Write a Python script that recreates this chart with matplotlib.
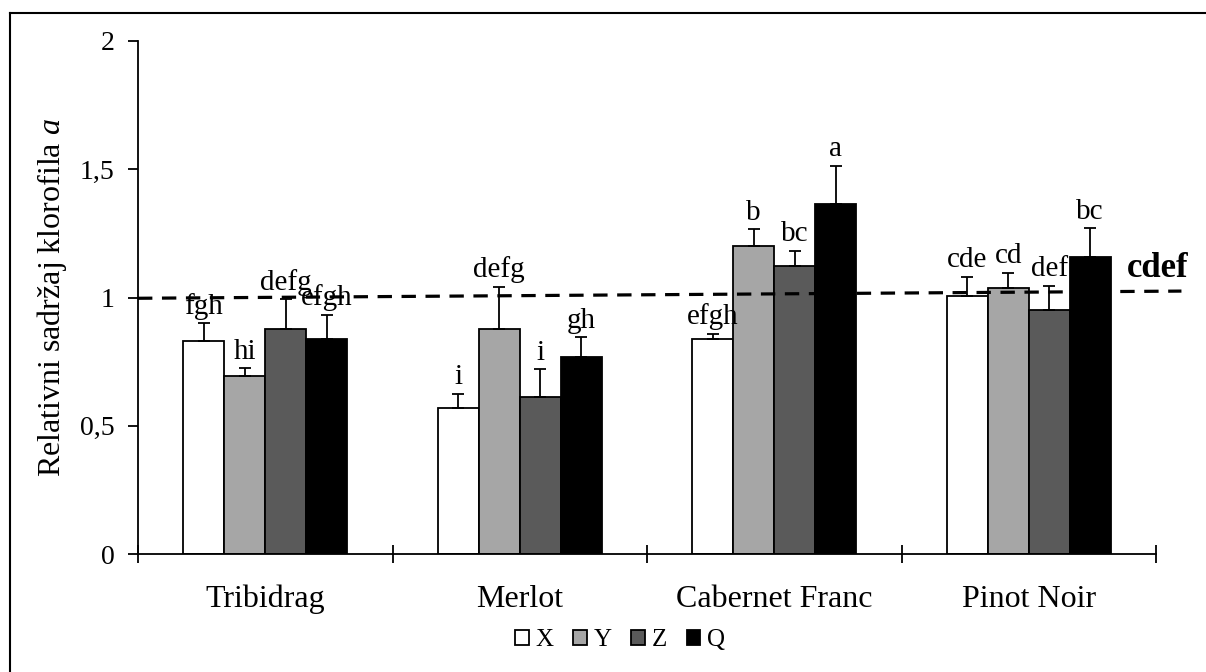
import numpy as np
import matplotlib
matplotlib.use("Agg")
import matplotlib.pyplot as plt
from matplotlib.patches import Patch
from matplotlib.lines import Line2D

plt.rcParams['font.family'] = ['Liberation Serif', 'DejaVu Serif']
plt.rcParams['mathtext.fontset'] = 'custom'
plt.rcParams['mathtext.rm'] = 'Liberation Serif'
plt.rcParams['mathtext.it'] = 'Liberation Serif:italic'

# podaci
sorte = ['Tribidrag', 'Merlot', 'Cabernet Franc', 'Pinot Noir']
serije = ['X', 'Y', 'Z', 'Q']
boje = ['#ffffff', '#a6a6a6', '#5a5a5a', '#000000']

vrijednosti = {
    'X': [0.832, 0.568, 0.837, 1.006],
    'Y': [0.694, 0.877, 1.200, 1.038],
    'Z': [0.877, 0.611, 1.123, 0.951],
    'Q': [0.838, 0.769, 1.363, 1.157],
}
greske = {
    'X': [0.067, 0.056, 0.021, 0.075],
    'Y': [0.030, 0.165, 0.066, 0.059],
    'Z': [0.116, 0.109, 0.058, 0.094],
    'Q': [0.094, 0.076, 0.150, 0.113],
}
slova = {
    'X': ['fgh', 'i', 'efgh', 'cde'],
    'Y': ['hi', 'defg', 'b', 'cd'],
    'Z': ['defg', 'i', 'bc', 'def'],
    'Q': ['efgh', 'gh', 'a', 'bc'],
}
# kontrola (isprekidana linija)
kontrola_x = [0.0, 4.1]
kontrola_y = [0.997, 1.025]
kontrola_slova = 'cdef'

y_ticks = [0, 0.5, 1, 1.5, 2]
y_tick_labels = ['0', '0,5', '1', '1,5', '2']

W, H = 1206, 672
fig = plt.figure(figsize=(W / 100, H / 100), dpi=100)
ax = fig.add_axes([138 / W, 1 - 554 / H, (1156 - 138) / W, (554 - 41) / H])

x = np.arange(len(sorte)) + 0.5
w = 0.161
for i, s in enumerate(serije):
    pos = x + (i - 1.5) * w
    ax.bar(pos, vrijednosti[s], w, color=boje[i], edgecolor='black',
           linewidth=1.3, zorder=2)
    ax.errorbar(pos, vrijednosti[s], yerr=[np.zeros(4), greske[s]], fmt='none',
                ecolor='black', elinewidth=1.3, capsize=4.5, capthick=1.3, zorder=2.5)
    for j in range(4):
        ax.annotate(slova[s][j], (pos[j], vrijednosti[s][j] + greske[s][j]),
                    xytext=(0, 7), textcoords='offset points', ha='center',
                    va='baseline', fontsize=21, zorder=4)

ax.plot(kontrola_x, kontrola_y, color='black', linewidth=2.3, dashes=(4.5, 3),
        clip_on=False, zorder=3)
ax.text(3.886, 1.08, kontrola_slova, fontsize=25, fontweight='bold',
        ha='left', va='baseline')

ax.set_xlim(0, 4)
ax.set_ylim(0, 2)
ax.set_yticks(y_ticks)
ax.set_yticklabels(y_tick_labels, fontsize=20)
ax.set_xticks(np.arange(5))
ax.set_xticklabels([])
ax.set_xticks(x, minor=True)
ax.set_xticklabels(sorte, minor=True, fontsize=23)
ax.tick_params(axis='x', which='major', direction='inout', length=13, width=1.3)
ax.tick_params(axis='x', which='minor', length=0, pad=22)
ax.tick_params(axis='y', direction='out', length=7, width=1.3, pad=10)
for sp in ['top', 'right']:
    ax.spines[sp].set_visible(False)
for sp in ['left', 'bottom']:
    ax.spines[sp].set_linewidth(1.3)

ax.set_ylabel(r'Relativni sadržaj klorofila $\mathit{a}$', fontsize=23)
ax.yaxis.set_label_coords(-0.068, 0.5)

handles = [Patch(facecolor=boje[i], edgecolor='black', linewidth=1.3, label=s)
           for i, s in enumerate(serije)]
fig.legend(handles=handles, loc='center', bbox_to_anchor=(620 / W, 1 - 640 / H),
           ncol=4, frameon=False, fontsize=18, handlelength=0.55, handleheight=0.55,
           handletextpad=0.25, columnspacing=0.8)

# okvir
fig.add_artist(Line2D([10 / W, 1], [1 - 13 / H, 1 - 13 / H], color='black', linewidth=1.5))
fig.add_artist(Line2D([10 / W, 10 / W], [0, 1 - 13 / H], color='black', linewidth=1.5))

fig.savefig('out.png', dpi=100)
